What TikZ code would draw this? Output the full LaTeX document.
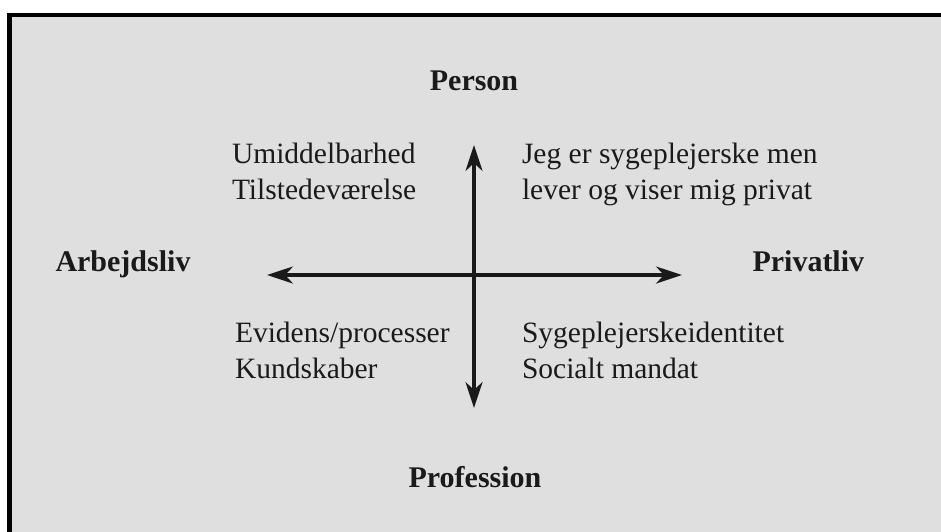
\documentclass[tikz,border=0pt]{standalone}
\usepackage{fontspec}
\setmainfont{Liberation Serif}
\usetikzlibrary{arrows.meta}
\definecolor{panel}{HTML}{DFDFDF}
\definecolor{ink}{HTML}{1A1A1A}
\tikzset{
  lbl/.style={inner sep=0pt, outer sep=0pt, anchor=base west, align=left, text=ink,
    font=\fontsize{29.5}{36}\selectfont},
  axislbl/.style={inner sep=0pt, outer sep=0pt, anchor=base, text=ink,
    font=\fontsize{30}{36}\selectfont\bfseries},
  axis/.style={line width=3.2pt, draw=ink, {Stealth[length=26pt,width=17pt,inset=8pt]}-{Stealth[length=26pt,width=17pt,inset=8pt]}}
}
\begin{document}
\begin{tikzpicture}[x=1pt,y=-1pt]
\useasboundingbox (0,0) rectangle (941,531);
\draw[line width=4.8pt, fill=panel] (9.8,15) rectangle (980,560);
% axis end points
\coordinate (top) at (474,145);
\coordinate (bottom) at (474,408);
\coordinate (left) at (267,275);
\coordinate (right) at (682,275);
\draw[axis] (top) -- (bottom);
\draw[axis] (left) -- (right);
% axis labels
\node[axislbl] (person) at (474,90) {Person};
\node[axislbl] (profession) at (475,487) {Profession};
\node[axislbl, anchor=base west] (arbejdsliv) at (55.5,271) {Arbejdsliv};
\node[axislbl, anchor=base west] (privatliv) at (752.5,271) {Privatliv};
% quadrant texts (base anchor = last line's baseline)
\node[lbl] (ul) at (232,199) {Umiddelbarhed\\Tilstedeværelse};
\node[lbl] (ur) at (522,199) {Jeg er sygeplejerske men\\lever og viser mig privat};
\node[lbl] (ll) at (235,378) {Evidens/processer\\Kundskaber};
\node[lbl] (lr) at (522,378) {Sygeplejerskeidentitet\\Socialt mandat};
\end{tikzpicture}
\end{document}
